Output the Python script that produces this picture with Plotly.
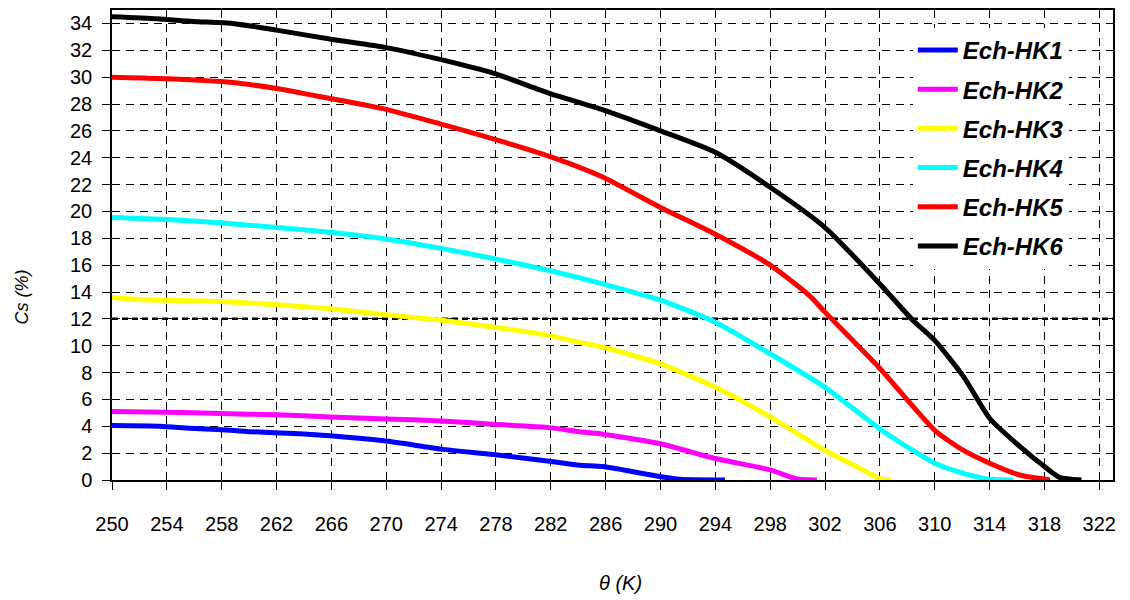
import plotly.graph_objects as go

# ---------------- data ----------------
series_names = ["Ech-HK1", "Ech-HK2", "Ech-HK3", "Ech-HK4", "Ech-HK5", "Ech-HK6"]
series_colors = ["#0000ff", "#ff00ff", "#ffff00", "#00ffff", "#ff0000", "#000000"]

hk1_x = [250, 253.5, 255.7, 258, 260, 263.7, 265.9, 270, 274, 277.8, 281.9, 284.1, 285.8, 290, 291.4, 294.7]
hk1_y = [4.05, 4.0, 3.85, 3.75, 3.6, 3.45, 3.3, 2.9, 2.3, 1.9, 1.4, 1.1, 1.0, 0.25, 0.05, 0.0]

hk2_x = [250, 254, 257.9, 262, 265.9, 270, 274, 277.8, 281.9, 284.1, 285.6, 290, 294, 298, 299.9, 301.4]
hk2_y = [5.1, 5.05, 4.95, 4.85, 4.7, 4.55, 4.4, 4.15, 3.9, 3.6, 3.45, 2.7, 1.6, 0.75, 0.1, 0.0]

hk3_x = [250, 252, 257.9, 262, 265.9, 270, 274, 277.8, 281.9, 284.1, 285.8, 290, 294, 298, 302, 304.3, 306, 306.8]
hk3_y = [13.6, 13.45, 13.3, 13.05, 12.75, 12.3, 11.9, 11.4, 10.75, 10.25, 9.9, 8.65, 6.9, 4.7, 2.2, 1.0, 0.1, 0.0]

hk4_x = [250, 254, 257.9, 262, 265.9, 270, 274, 277.8, 281.9, 284.1, 285.8, 290, 294, 298, 302, 306, 308.4, 310, 312.1, 314, 315.7]
hk4_y = [19.55, 19.4, 19.15, 18.8, 18.45, 17.95, 17.25, 16.5, 15.6, 15.05, 14.6, 13.4, 11.75, 9.4, 6.9, 3.8, 2.2, 1.25, 0.5, 0.05, 0.0]

hk5_x = [250, 253.5, 258.8, 262, 264.9, 270, 274, 277.8, 281.9, 285.7, 290, 294, 298, 300.9, 302, 306, 310, 312.1, 314, 316.2, 318.4]
hk5_y = [30.0, 29.9, 29.6, 29.15, 28.6, 27.6, 26.5, 25.4, 24.1, 22.6, 20.3, 18.3, 16.0, 13.7, 12.5, 8.3, 3.7, 2.2, 1.25, 0.37, 0.0]

hk6_x = [250, 253.3, 255.9, 258.8, 262, 266.1, 270, 274, 277.8, 281.9, 285.7, 290, 294, 298, 302, 306, 308.4, 310, 312.1, 314, 316.2, 318, 319.1, 320.7]
hk6_y = [34.5, 34.35, 34.15, 34.0, 33.5, 32.8, 32.2, 31.3, 30.3, 28.8, 27.6, 26.0, 24.4, 21.8, 18.8, 14.6, 11.9, 10.4, 7.7, 4.6, 2.5, 1.0, 0.2, 0.0]

series_x = [hk1_x, hk2_x, hk3_x, hk4_x, hk5_x, hk6_x]
series_y = [hk1_y, hk2_y, hk3_y, hk4_y, hk5_y, hk6_y]

x_tick_values = list(range(250, 323, 4))
y_tick_values = list(range(0, 35, 2))
x_range = [250, 323]
y_range = [0, 35]
highlight_y = 12

x_title = "θ (K)"
y_title = "Cs (%)"

# ---------------- figure ----------------
fig = go.Figure()
for name, color, xs, ys in zip(series_names, series_colors, series_x, series_y):
    fig.add_trace(go.Scatter(
        x=xs, y=ys, mode="lines", name=name, legendgroup=name,
        line=dict(color=color, width=5, shape="spline", smoothing=0.6),
    ))

fig.add_hline(y=highlight_y, line=dict(color="black", width=2.5, dash="6px,4px"), layer="below")

tick_font = dict(family="Liberation Sans", size=20, color="black")
grid_dash = "8px,6px"

fig.update_xaxes(
    range=x_range, tickvals=x_tick_values, ticktext=[str(v) for v in x_tick_values],
    showgrid=True, gridcolor="black", gridwidth=1, griddash=grid_dash,
    showline=True, linecolor="black", linewidth=1.5, mirror=True,
    ticks="outside", ticklen=8, tickcolor="black", tickfont=tick_font,
    ticklabelstandoff=17, zeroline=False, automargin=False,
)
fig.update_yaxes(
    range=y_range, tickvals=y_tick_values, ticktext=[str(v) for v in y_tick_values],
    showgrid=True, gridcolor="black", gridwidth=1, griddash=grid_dash,
    showline=True, linecolor="black", linewidth=1.5, mirror=True,
    ticks="outside", ticklen=8, tickcolor="black", tickfont=tick_font,
    ticklabelstandoff=6, zeroline=False, automargin=False,
)

# the page body adds an 8px offset, so the figure is 8px smaller in each direction
fig.update_layout(
    width=1122, height=592,
    margin=dict(l=104, r=17, t=2, b=120),
    paper_bgcolor="white", plot_bgcolor="white",
    showlegend=True,
    legend=dict(
        x=0.80, y=0.962, xanchor="left", yanchor="top",
        bgcolor="white", borderwidth=0,
        font=dict(family="Liberation Sans", size=24, color="black", weight="bold", style="italic"),
        traceorder="grouped", tracegroupgap=5, itemwidth=40,
    ),
    annotations=[
        dict(text=x_title, xref="paper", yref="paper", x=0.508, y=-0.22, yanchor="middle",
             showarrow=False, font=dict(family="Liberation Sans", size=20, style="italic", color="black")),
        dict(text=y_title, xref="paper", yref="paper", x=-0.09, y=0.39, xanchor="center",
             textangle=-90, showarrow=False,
             font=dict(family="Liberation Sans", size=18, style="italic", color="black")),
    ],
)

fig.write_html("out.html")
